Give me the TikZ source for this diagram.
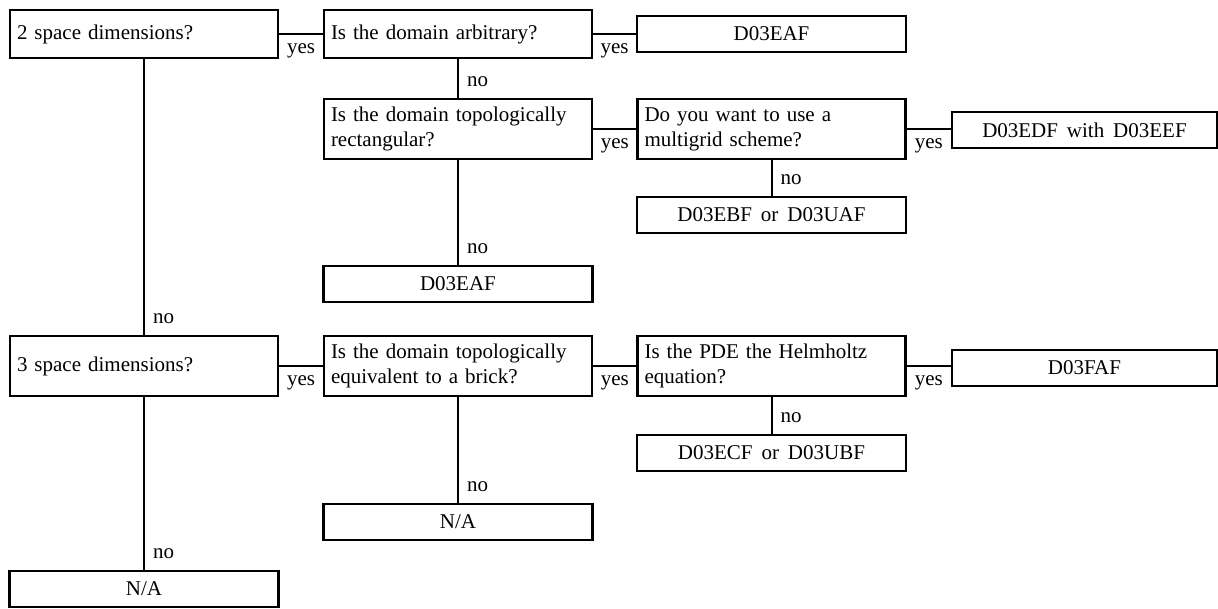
\documentclass[tikz,border=0pt]{standalone}
\usepackage{fontspec}
\setmainfont{Liberation Serif}[WordSpace=1.7]
\begin{document}
\begin{tikzpicture}[x=1pt,y=-1pt,
  txt/.style={font=\fontsize{21pt}{25pt}\selectfont},
  qbox/.style={txt, draw, line width=2.2pt, inner xsep=7pt, inner ysep=0pt, outer sep=0pt, align=left, text width=254pt},
  lbox/.style={txt, draw, line width=2.2pt, inner sep=0pt, outer sep=0pt, align=center, minimum width=269pt, minimum height=36pt},
  conn/.style={line width=2pt},
  lbl/.style={txt, inner sep=0pt}]
\useasboundingbox (0,0) rectangle (1218,608);
% row 1
\node[qbox, minimum height=48pt] (A) at (144,34) {2 space dimensions?};
\node[qbox, minimum height=48pt] (B) at (458,34) {Is the domain arbitrary?};
\node[lbox] (C) at (771.5,34) {D03EAF};
% row 2
\node[qbox, minimum height=60pt] (D) at (458,129) {Is the domain topologically\\rectangular?};
\node[qbox, minimum height=60pt] (E) at (771.5,129) {Do you want to use a\\multigrid scheme?};
\node[lbox, minimum width=265pt] (L) at (1084.5,130) {D03EDF with D03EEF};
\node[lbox] (F) at (771.5,215) {D03EBF or D03UAF};
\node[lbox] (G) at (458,284) {D03EAF};
% row 3
\node[qbox, minimum height=60pt] (H) at (144,366) {3 space dimensions?};
\node[qbox, minimum height=60pt] (I) at (458,366) {Is the domain topologically\\equivalent to a brick?};
\node[qbox, minimum height=60pt] (J) at (771.5,366) {Is the PDE the Helmholtz\\equation?};
\node[lbox, minimum width=265pt] (K) at (1084.5,368) {D03FAF};
\node[lbox] (M) at (771.5,453) {D03ECF or D03UBF};
\node[lbox] (N) at (458,522) {N/A};
\node[lbox] (O) at (144,589) {N/A};
% yes connectors
\foreach \s/\t in {A/B, B/C, D/E, H/I, I/J}
  \draw[conn] (\s.east) -- (\t.west) node[midway, anchor=base, yshift=-19pt, lbl] {yes};
\foreach \s/\t in {E/L, J/K}
  \draw[conn] (\s.east) -- (\s.east -| \t.west) node[midway, anchor=base, yshift=-19pt, lbl] {yes};
% no connectors
\foreach \s/\t in {A/H, B/D, D/G, E/F, H/O, I/N, J/M}
  \draw[conn] (\s.south) -- (\t.north) node[pos=1, anchor=base west, xshift=8pt, yshift=13pt, lbl] {no};
\end{tikzpicture}
\end{document}
